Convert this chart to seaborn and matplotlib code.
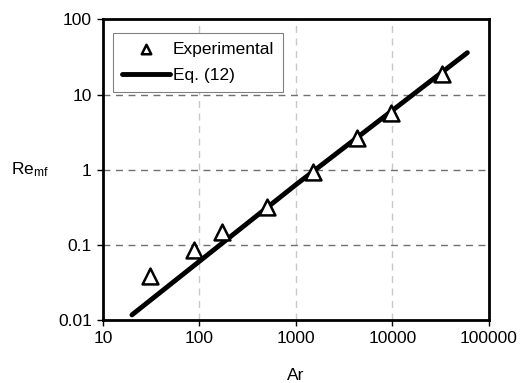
import matplotlib
matplotlib.use("Agg")
import matplotlib.pyplot as plt
import seaborn as sns
import pandas as pd

# Experimental data
ar_exp = [30.7, 88, 170, 497, 1490, 4350, 9640, 33100]
re_exp = [0.038, 0.086, 0.15, 0.32, 0.92, 2.6, 5.7, 19.0]

# Eq. (12) curve
ar_eq = [20, 1000, 60000]
re_eq = [0.0117, 0.63, 36.0]

x_ticks = [10, 100, 1000, 10000, 100000]
x_labels = ["10", "100", "1000", "10000", "100000"]
y_ticks = [0.01, 0.1, 1, 10, 100]
y_labels = ["0.01", "0.1", "1", "10", "100"]

sns.set_theme(style="white")
plt.rcParams['font.family'] = ['Liberation Sans', 'DejaVu Sans']
plt.rcParams['mathtext.fontset'] = 'custom'
plt.rcParams['mathtext.rm'] = 'Liberation Sans'
plt.rcParams['mathtext.it'] = 'Liberation Sans'
plt.rcParams['text.color'] = 'black'
plt.rcParams['axes.labelcolor'] = 'black'
plt.rcParams['xtick.color'] = 'black'
plt.rcParams['ytick.color'] = 'black'

FS = 12.5

fig = plt.figure(figsize=(5.25, 3.83), dpi=100)
ax = fig.add_axes([0.196, 0.1645, 0.735, 0.785])

df_exp = pd.DataFrame({"Ar": ar_exp, "Re": re_exp})
df_eq = pd.DataFrame({"Ar": ar_eq, "Re": re_eq})

ax.set_xscale("log")
ax.set_yscale("log")

for t in [100, 1000, 10000]:
    ax.axvline(t, color="#c8c8c8", linestyle=(0, (5, 4)), linewidth=1.0, zorder=0)
for t in [0.1, 1, 10]:
    ax.axhline(t, color="#707070", linestyle=(0, (5, 4)), linewidth=1.0, zorder=0)

sns.lineplot(data=df_eq, x="Ar", y="Re", ax=ax, color="black", linewidth=3.5,
             solid_capstyle="round", label="Eq. (12)", zorder=2)
sns.scatterplot(data=df_exp, x="Ar", y="Re", ax=ax, marker="^", s=130,
                facecolor="white", edgecolor="black", linewidth=1.8,
                label="Experimental", zorder=3)

ax.set_xlim(10, 100000)
ax.set_ylim(0.01, 100)
ax.set_xticks(x_ticks)
ax.set_xticklabels(x_labels)
ax.set_yticks(y_ticks)
ax.set_yticklabels(y_labels)
ax.minorticks_off()
ax.tick_params(axis="both", which="major", direction="out", length=4, width=1,
               color="black", labelcolor="black", labelsize=FS, pad=4,
               bottom=True, left=True)

for s in ax.spines.values():
    s.set_color("black")
    s.set_linewidth(2)

ax.set_xlabel("Ar", fontsize=FS, labelpad=16, color="black")
ax.set_ylabel(r"Re$_{\mathregular{mf}}$", fontsize=FS, rotation=0, labelpad=20,
              va="center", color="black")

handles, labels = ax.get_legend_handles_labels()
order = [labels.index("Experimental"), labels.index("Eq. (12)")]
leg = ax.legend([handles[i] for i in order], [labels[i] for i in order],
                loc="upper left", bbox_to_anchor=(0.026, 0.955), borderaxespad=0,
                fontsize=FS, frameon=True, fancybox=False, edgecolor="#808080",
                framealpha=1, handlelength=2.8, handletextpad=0.15, borderpad=0.5,
                labelspacing=0.67, markerscale=0.6)
leg.get_frame().set_linewidth(0.8)
for t in leg.get_texts():
    t.set_color("black")

fig.savefig("out.png", dpi=100)
